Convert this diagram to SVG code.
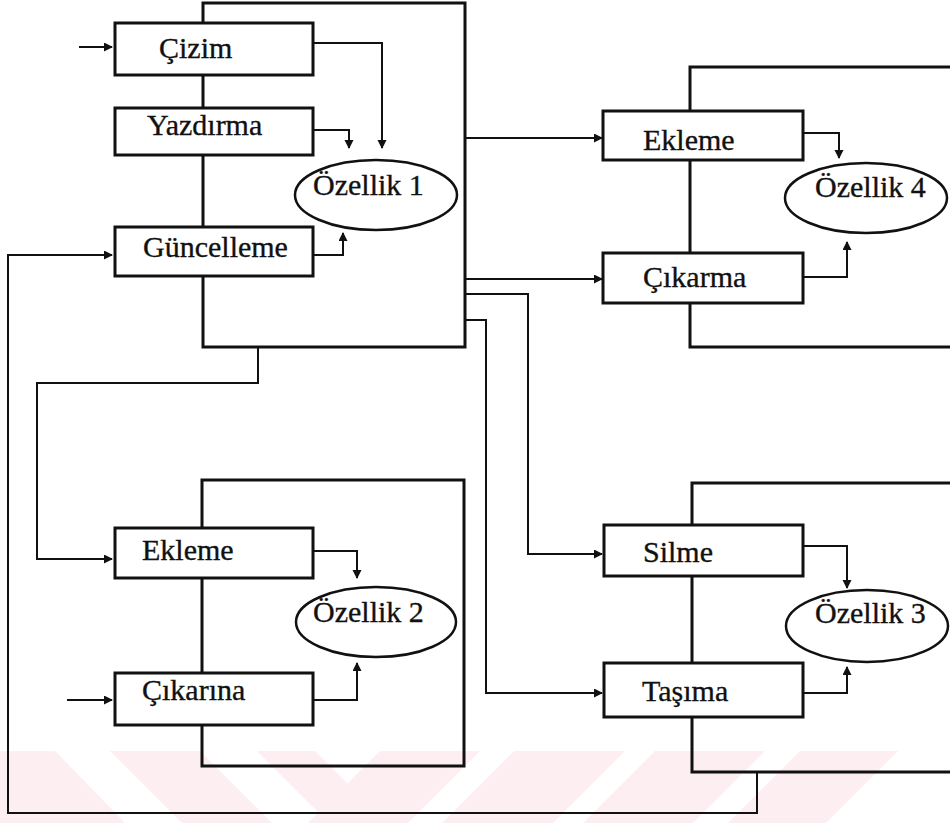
<svg xmlns="http://www.w3.org/2000/svg" width="950" height="823" viewBox="0 0 950 823">
  <style>
    .frame { fill: none; stroke: #111; stroke-width: 3; }
    .box { fill: #fff; stroke: #111; stroke-width: 3; }
    .oval { fill: #fff; stroke: #111; stroke-width: 2.5; }
    .arrow { fill: none; stroke: #111; stroke-width: 2; marker-end: url(#head); }
    .lbl { font-family: "Liberation Serif", "Times New Roman", serif; font-size: 30px; fill: #111; stroke: #111; stroke-width: 0.35; }
    .band { fill: #fdeef1; }
  </style>
  <defs>
    <marker id="head" markerUnits="userSpaceOnUse" markerWidth="10" markerHeight="10" refX="8" refY="4.5" orient="auto">
      <path d="M0,0 L9,4.5 L0,9 z" fill="#111"/>
    </marker>
  </defs>

  <rect width="950" height="823" fill="#fff"/>

  <!-- light striped band along the bottom edge -->
  <g id="band">
    <polygon class="band" points="0,751 55,751 125,823 0,823"/>
    <polygon class="band" points="110,751 200,751 272,823 182,823"/>
    <polygon class="band" points="257,751 315,751 387,823 329,823"/>
    <polygon class="band" points="380,751 480,751 408,823 308,823"/>
    <polygon class="band" points="514,751 625,751 553,823 442,823"/>
    <polygon class="band" points="655,751 765,751 693,823 583,823"/>
    <polygon class="band" points="800,751 898,751 826,823 728,823"/>
  </g>

  <!-- module frames -->
  <g id="frames">
    <rect class="frame" x="203" y="3" width="262" height="344"/>
    <path class="frame" d="M950,67 H690 V347 H950"/>
    <rect class="frame" x="202" y="480" width="262" height="286"/>
    <path class="frame" d="M950,483 H692 V772 H950"/>
  </g>

  <!-- connectors -->
  <g id="connectors">
    <path class="arrow" d="M79,47 H112"/>
    <path class="arrow" d="M313,43 H382 V148"/>
    <path class="arrow" d="M313,130 H349 V148"/>
    <path class="arrow" d="M313,255 H343 V233"/>
    <path class="arrow" d="M465,138 H602"/>
    <path class="arrow" d="M465,279 H602"/>
    <path class="arrow" d="M465,294 H528 V554 H602"/>
    <path class="arrow" d="M465,320 H486 V693 H602"/>
    <path class="arrow" d="M803,133 H839 V158"/>
    <path class="arrow" d="M803,277 H847 V242"/>
    <path class="arrow" d="M803,546 H847 V588"/>
    <path class="arrow" d="M803,693 H847 V667"/>
    <path class="arrow" d="M258,347 V383 H37 V559 H112"/>
    <path class="arrow" d="M313,551 H357 V578"/>
    <path class="arrow" d="M313,700 H357 V663"/>
    <path class="arrow" d="M67,700 H112"/>
    <path class="arrow" d="M757,772 V813 H8 V255 H112"/>
  </g>

  <!-- module 1 -->
  <g id="cizim">
    <rect class="box" x="115" y="23" width="198" height="52"/>
    <text class="lbl" x="159" y="58">Çizim</text>
  </g>
  <g id="yazdirma">
    <rect class="box" x="115" y="108" width="198" height="47"/>
    <text class="lbl" x="147" y="135">Yazdırma</text>
  </g>
  <g id="guncelleme">
    <rect class="box" x="115" y="227" width="198" height="49"/>
    <text class="lbl" x="143" y="257">Güncelleme</text>
  </g>
  <g id="ozellik1">
    <ellipse class="oval" cx="376" cy="195" rx="81" ry="35"/>
    <text class="lbl" x="313" y="195">Özellik 1</text>
  </g>

  <!-- module 4 -->
  <g id="ekleme4">
    <rect class="box" x="603" y="111" width="200" height="49"/>
    <text class="lbl" x="643" y="150">Ekleme</text>
  </g>
  <g id="cikarma4">
    <rect class="box" x="603" y="253" width="200" height="50"/>
    <text class="lbl" x="643" y="287">Çıkarma</text>
  </g>
  <g id="ozellik4">
    <ellipse class="oval" cx="866" cy="198" rx="81" ry="35"/>
    <text class="lbl" x="815" y="197">Özellik 4</text>
  </g>

  <!-- module 2 -->
  <g id="ekleme2">
    <rect class="box" x="115" y="528" width="198" height="50"/>
    <text class="lbl" x="142" y="560">Ekleme</text>
  </g>
  <g id="cikarina2">
    <rect class="box" x="115" y="673" width="198" height="52"/>
    <text class="lbl" x="142" y="700">Çıkarına</text>
  </g>
  <g id="ozellik2">
    <ellipse class="oval" cx="376" cy="622" rx="80" ry="35"/>
    <text class="lbl" x="313" y="622">Özellik 2</text>
  </g>

  <!-- module 3 -->
  <g id="silme3">
    <rect class="box" x="604" y="525" width="199" height="51"/>
    <text class="lbl" x="643" y="562">Silme</text>
  </g>
  <g id="tasima3">
    <rect class="box" x="604" y="663" width="199" height="54"/>
    <text class="lbl" x="642" y="701">Taşıma</text>
  </g>
  <g id="ozellik3">
    <ellipse class="oval" cx="867" cy="626" rx="81" ry="36"/>
    <text class="lbl" x="815" y="623">Özellik 3</text>
  </g>
</svg>
